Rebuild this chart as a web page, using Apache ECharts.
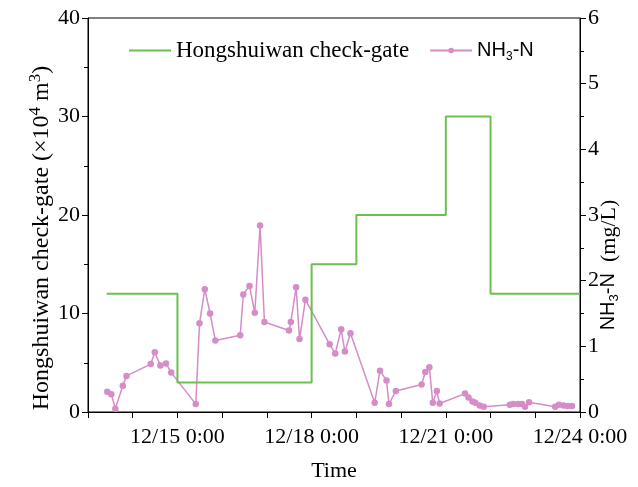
<!DOCTYPE html>
<html>
<head>
<meta charset="utf-8">
<script src="https://cdn.jsdelivr.net/npm/echarts@6/dist/echarts.min.js"></script>
<style>html,body{margin:0;padding:0;background:#fff;}#c{width:638px;height:487px;}</style>
</head>
<body>
<div id="c"></div>
<script>
// ---- data ----
const gateTimes = ['12-13 10:00','12-15 00:00','12-18 00:00','12-19 00:00','12-21 00:00','12-22 00:00','12-24 00:00'];
const gateValues = [12, 3, 15, 20, 30, 12, 12];

const nh3Times = [
  '12-13 10:20','12-13 12:30','12-13 14:40','12-13 18:40','12-13 20:40',
  '12-14 09:40','12-14 11:50','12-14 14:50','12-14 17:50','12-14 20:40',
  '12-15 09:50','12-15 11:50','12-15 14:40','12-15 17:30','12-15 20:20',
  '12-16 09:40','12-16 11:20','12-16 14:40','12-16 17:30','12-16 20:20','12-16 22:40',
  '12-17 11:50','12-17 12:50','12-17 15:40','12-17 17:30','12-17 20:40',
  '12-18 09:40','12-18 12:40','12-18 15:50','12-18 17:50','12-18 20:50',
  '12-19 09:50','12-19 12:40','12-19 16:10','12-19 17:30','12-19 21:10',
  '12-20 11:00','12-20 13:00','12-20 15:10','12-20 17:00','12-20 19:10','12-20 20:40',
  '12-21 10:20','12-21 12:10','12-21 14:20','12-21 15:50','12-21 18:10','12-21 20:20',
  '12-22 10:20','12-22 12:10','12-22 14:50','12-22 16:50','12-22 18:30','12-22 20:40',
  '12-23 10:40','12-23 12:40','12-23 15:10','12-23 17:20','12-23 19:40'
];
const nh3Values = [
  0.31,0.27,0.05,0.40,0.55,
  0.73,0.91,0.71,0.74,0.60,
  0.12,1.35,1.87,1.50,1.09,
  1.17,1.79,1.92,1.51,2.84,1.37,
  1.24,1.37,1.90,1.11,1.71,
  1.03,0.89,1.26,0.92,1.20,
  0.14,0.63,0.48,0.12,0.32,
  0.42,0.61,0.68,0.14,0.32,0.13,
  0.28,0.22,0.16,0.14,0.10,0.08,
  0.11,0.12,0.12,0.12,0.08,0.15,
  0.08,0.11,0.10,0.09,0.09
];
const xTickLabels = ['12/15 0:00','12/18 0:00','12/21 0:00','12/24 0:00'];
const xStart = '12-13 00:00';
const xEnd = '12-24 00:00';
const seriesNames = ['Hongshuiwan check-gate','NH3-N'];

// ---- helpers ----
const YEAR = 2020;
function ts(s){
  const [md, hm] = s.split(' ');
  const [m, d] = md.split('-').map(Number);
  const [h, mi] = hm.split(':').map(Number);
  return Date.UTC(YEAR, m - 1, d, h, mi);
}
const DAY = 86400000;
const serif = 'Liberation Serif';
const sans = 'Liberation Sans';
const GREEN = '#6cc04e';
const PINK = '#d68cc6';

const chart = echarts.init(document.getElementById('c'), null, {renderer:'canvas'});
chart.setOption({
  animation: false,
  backgroundColor: '#fff',
  grid: {left: 88, right: 58, top: 18, bottom: 75, show: true, borderColor: '#000', borderWidth: 1,
         backgroundColor: 'transparent', containLabel: false, outerBoundsMode: 'none'},
  legend: {
    left: 123, top: 34, itemGap: 20, itemWidth: 42, itemHeight: 7,
    data: [
      {name: seriesNames[0], itemStyle: {opacity: 0}},
      {name: seriesNames[1]}
    ],
    formatter: function(n){ return n === 'NH3-N' ? '{n|NH}{sub|3}{n|-N}' : '{g|' + n + '}'; },
    textStyle: {
      color: '#000', padding: [0,0,0,0],
      rich: {
        g: {fontFamily: serif, fontSize: 23, color: '#000', lineHeight: 24, verticalAlign: 'middle'},
        n: {fontFamily: sans, fontSize: 20, color: '#000', lineHeight: 24, verticalAlign: 'middle'},
        sub: {fontFamily: sans, fontSize: 12, color: '#000', lineHeight: 24, verticalAlign: 'bottom'}
      }
    }
  },
  xAxis: {
    type: 'value', min: ts(xStart), max: ts(xEnd), interval: DAY,
    name: 'Time', nameLocation: 'middle', nameGap: 48, nameMoveOverlap: false,
    nameTextStyle: {fontFamily: serif, fontSize: 22, color: '#000'},
    axisLine: {show: true, lineStyle: {color: '#000', width: 1}},
    axisTick: {show: true, inside: false, length: 6, lineStyle: {color: '#000'}},
    splitLine: {show: false},
    axisLabel: {
      fontFamily: serif, fontSize: 22, color: '#000', margin: 14, showMinLabel: true, showMaxLabel: true,
      formatter: function(v){
        const d = new Date(v);
        const lab = (d.getUTCMonth()+1) + '/' + d.getUTCDate() + ' 0:00';
        return xTickLabels.indexOf(lab) >= 0 ? lab : '';
      }
    }
  },
  yAxis: [
    {
      type: 'value', min: 0, max: 40, interval: 10, position: 'left',
      name: '{a|Hongshuiwan check-gate (×10}{s|4}{a| m}{s|3}{a|)}',
      nameLocation: 'middle', nameGap: 34, nameRotate: 90, nameMoveOverlap: false,
      nameTextStyle: {
        color: '#000', padding: [0, 46, 0, 0],
        rich: {
          a: {fontFamily: serif, fontSize: 24, color: '#000', lineHeight: 27, verticalAlign: 'bottom'},
          s: {fontFamily: serif, fontSize: 17, color: '#000', lineHeight: 27, verticalAlign: 'top'}
        }
      },
      axisLine: {show: true, lineStyle: {color: '#000', width: 1}},
      axisTick: {show: true, inside: false, length: 6, lineStyle: {color: '#000'}},
      minorTick: {show: true, splitNumber: 2, length: 4, lineStyle: {color: '#000'}},
      splitLine: {show: false},
      axisLabel: {fontFamily: serif, fontSize: 22, color: '#000', margin: 8}
    },
    {
      type: 'value', min: 0, max: 6, interval: 1, position: 'right',
      name: '{b|NH}{sb|3}{b|-N  }{c|(mg/L)}',
      nameLocation: 'middle', nameGap: 18, nameRotate: 90, nameMoveOverlap: false,
      nameTextStyle: {
        color: '#000', padding: [0, 100, 0, 0],
        rich: {
          b: {fontFamily: sans, fontSize: 20, color: '#000', lineHeight: 23, verticalAlign: 'top'},
          sb: {fontFamily: sans, fontSize: 13, color: '#000', lineHeight: 23, verticalAlign: 'bottom'},
          c: {fontFamily: serif, fontSize: 22, color: '#000', lineHeight: 23, verticalAlign: 'top'}
        }
      },
      axisLine: {show: true, lineStyle: {color: '#000', width: 1}},
      axisTick: {show: true, inside: false, length: 6, lineStyle: {color: '#000'}},
      minorTick: {show: true, splitNumber: 2, length: 4, lineStyle: {color: '#000'}},
      splitLine: {show: false},
      axisLabel: {fontFamily: serif, fontSize: 22, color: '#000', margin: 8}
    }
  ],
  series: [
    {
      name: seriesNames[0], type: 'line', yAxisIndex: 0, step: 'end',
      showSymbol: false, symbol: 'none',
      data: gateTimes.map((t, i) => [ts(t), gateValues[i]]),
      lineStyle: {color: GREEN, width: 2}, itemStyle: {color: GREEN}, z: 3
    },
    {
      name: seriesNames[1], type: 'line', yAxisIndex: 1,
      symbol: 'circle', symbolSize: 6.5, showSymbol: true,
      data: nh3Times.map((t, i) => [ts(t), nh3Values[i]]),
      lineStyle: {color: PINK, width: 1.5}, itemStyle: {color: PINK}, z: 2
    }
  ]
});
</script>
</body>
</html>
